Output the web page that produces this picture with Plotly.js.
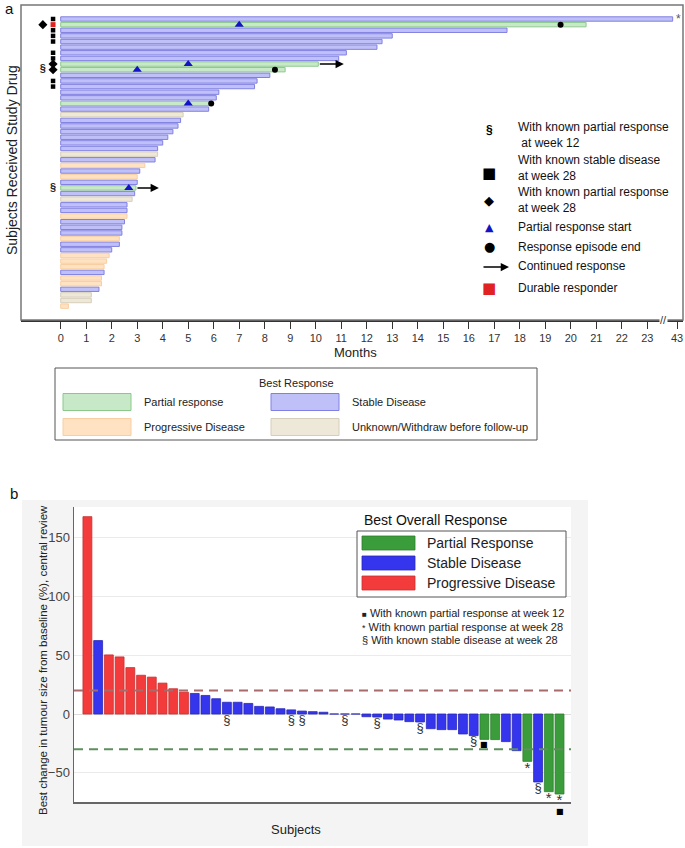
<!DOCTYPE html>
<html>
<head>
<meta charset="utf-8">
<script src="https://cdn.plot.ly/plotly-3.0.1.min.js"></script>
<style>
  html, body { margin: 0; padding: 0; background: #fff; }
  #chart { width: 685px; height: 848px; }
</style>
</head>
<body>
<div id="chart"></div>
<script>
// ---- panel a: swimmer plot, one row per subject (top row first) ----
const months = [42.3, 20.6, 17.5, 13.0, 12.6, 12.4, 11.2, 10.9, 10.1, 8.8, 8.2, 7.7, 7.6,
  6.2, 6.1, 5.85, 5.8, 4.8, 4.7, 4.6, 4.4, 4.2, 4.0, 3.8, 3.8, 3.7, 3.3, 3.1, 3.0, 3.0,
  2.95, 2.9, 2.8, 2.6, 2.6, 2.6, 2.5, 2.4, 2.4, 2.3, 2.3, 2.0, 1.9, 1.8, 1.7, 1.7, 1.6,
  1.6, 1.5, 1.2, 1.2, 0.3];
const bestResp = ['SD','PR','SD','SD','SD','SD','SD','SD','PR','PR','SD','SD','SD',
  'SD','SD','PR','SD','UNK','SD','SD','SD','SD','SD','SD','UNK','SD','PD','SD','PD','SD',
  'PR','SD','UNK','SD','SD','PD','SD','SD','SD','PD','SD','SD','PD','PD','PD','SD','PD',
  'PD','SD','UNK','UNK','PD'];

const prStartRow = [2, 9, 10, 16, 31];
const prStartMonth = [7.0, 5.0, 3.0, 5.0, 2.67];
const respEndRow = [2, 10, 16];
const respEndMonth = [19.6, 8.4, 5.9];
const contRow = [9, 31];
const contMonth = [11.1, 3.85];

const durableRows = [2];
const sd28Rows = [1, 3, 4, 5, 7, 8, 12, 13];
const pr28Rows = [2, 9, 10];
const pr12Rows = [10, 31];

const tickMonths = [0,1,2,3,4,5,6,7,8,9,10,11,12,13,14,15,16,17,18,19,20,21,22,23,43];

// ---- panel b: waterfall of best change in tumour size ----
const change = [168, 62.5, 50.3, 48.6, 39.5, 33, 31.4, 26.3, 21.5, 18.6, 17.5, 15.8, 13,
  10, 10, 9, 6.5, 6, 4.5, 3.5, 2.5, 2, 1.5, 0, 0, 0, -2.3, -2.6, -4.3, -5.1, -6.5, -6.8,
  -12.5, -13.3, -13.3, -17, -18.4, -21.6, -21.8, -23.5, -31.2, -40.3, -57.9, -66.1, -68.1];
const overall = ['PD','SD','PD','PD','PD','PD','PD','PD','PD','PD',
  'SD','SD','SD','SD','SD','SD','SD','SD','SD','SD','SD','SD','SD','SD','SD','SD','SD',
  'SD','SD','SD','SD','SD','SD','SD','SD','SD','SD',
  'PR','PR','SD','SD','PR','SD','PR','PR'];
const wk12PR = [38, 45];
const wk28PR = [42, 44, 45];
const wk28SD = [14, 20, 21, 25, 28, 32, 37, 43];
const pdLine = 20, prLine = -30;

// page helpers (pixel -> paper)
const W = 685, H = 848;
const px = x => x / W;
const py = y => 1 - y / H;
const FONT = 'Liberation Sans, Arial, sans-serif';

// broken x axis: everything past 23 squeezed next to the "43" tick
const axisPos = m => m > 23.5 ? 24.17 - (43 - m) * 0.25 : m;

const rows = months.map((_, i) => i + 1);

const swimStyle = {
  PR:  {fill: 'rgb(200,233,200)', edge: 'rgb(140,200,140)'},
  SD:  {fill: 'rgb(192,192,248)', edge: 'rgb(128,128,226)'},
  PD:  {fill: 'rgb(255,226,194)', edge: 'rgb(248,206,162)'},
  UNK: {fill: 'rgb(238,232,217)', edge: 'rgb(214,206,188)'}
};

const swimTraces = Object.keys(swimStyle).map(k => {
  const rr = rows.filter((r, i) => bestResp[i] === k);
  return {
    type: 'bar', orientation: 'h', xaxis: 'x', yaxis: 'y',
    x: rr.map(r => axisPos(months[r - 1])), y: rr, base: 0, width: 0.78,
    marker: {color: swimStyle[k].fill, line: {color: swimStyle[k].edge, width: 1}},
    showlegend: false, hoverinfo: 'skip'
  };
});

const startTrace = {
  type: 'scatter', mode: 'markers', xaxis: 'x', yaxis: 'y',
  x: prStartMonth, y: prStartRow,
  marker: {symbol: 'triangle-up', size: 8, color: '#1212c8'},
  showlegend: false, hoverinfo: 'skip'
};
const endTrace = {
  type: 'scatter', mode: 'markers', xaxis: 'x', yaxis: 'y',
  x: respEndMonth, y: respEndRow,
  marker: {symbol: 'circle', size: 6, color: '#000'},
  showlegend: false, hoverinfo: 'skip'
};

// flags left of the bars, stacked from the inner column outwards
const colX = [-0.30, -0.70];
const used = {};
const place = rr => rr.map(r => { const c = used[r] || 0; used[r] = c + 1; return colX[c]; });
const flagTraces = [
  {rr: durableRows, marker: {symbol: 'square', size: 5, color: '#e02222'}},
  {rr: sd28Rows, marker: {symbol: 'square', size: 4.5, color: '#000'}},
  {rr: pr28Rows, marker: {symbol: 'diamond', size: 7, color: '#000'}},
  {rr: pr12Rows, text: '§'}
].map(f => {
  const xs = place(f.rr);
  const t = {type: 'scatter', xaxis: 'x', yaxis: 'y', x: xs, y: f.rr,
    showlegend: false, hoverinfo: 'skip'};
  if (f.text) {
    t.mode = 'text';
    t.text = f.rr.map(() => f.text);
    t.textfont = {family: FONT, size: 11, color: '#222', weight: 'bold'};
  } else {
    t.mode = 'markers';
    t.marker = f.marker;
  }
  return t;
});

// ---- waterfall traces ----
const subj = change.map((_, i) => i + 1);
const waterStyle = {
  PR: {fill: '#3a9c3a', edge: '#2f7f2f'},
  SD: {fill: '#3535ee', edge: '#2a2ab8'},
  PD: {fill: '#f43b3b', edge: '#c83030'}
};
const waterTraces = Object.keys(waterStyle).map(k => {
  const ss = subj.filter((s, i) => overall[i] === k);
  return {
    type: 'bar', xaxis: 'x2', yaxis: 'y2',
    x: ss, y: ss.map(s => change[s - 1]), width: 0.83,
    marker: {color: waterStyle[k].fill, line: {color: waterStyle[k].edge, width: 0.8}},
    showlegend: false, hoverinfo: 'skip'
  };
});

const noteSubj = subj.filter(s => wk28SD.includes(s) || wk28PR.includes(s));
const noteTrace = {
  type: 'scatter', mode: 'text', xaxis: 'x2', yaxis: 'y2', cliponaxis: false,
  x: noteSubj, y: noteSubj.map(s => Math.min(change[s - 1], 0)),
  text: noteSubj.map(s => wk28SD.includes(s) ? '§' : '*'),
  textposition: 'bottom center',
  textfont: {family: FONT, color: '#333',
    size: noteSubj.map(s => wk28SD.includes(s) ? 13 : 15)},
  showlegend: false, hoverinfo: 'skip'
};

// ---- decoration: frames, legends, labels ----
const shapes = [
  // panel a frame
  {type: 'rect', xref: 'paper', yref: 'paper', x0: px(21), x1: px(683), y0: py(320), y1: py(5),
    line: {color: '#777', width: 1.5}},
  // panel a best-response key
  {type: 'rect', xref: 'paper', yref: 'paper', x0: px(55), x1: px(537), y0: py(440), y1: py(368),
    line: {color: '#555', width: 1}, fillcolor: '#fff'},
  // panel b grey background and white plot area
  {type: 'rect', xref: 'paper', yref: 'paper', layer: 'below', x0: px(22), x1: px(588), y0: py(846), y1: py(500),
    line: {width: 0}, fillcolor: '#f4f4f4'},
  {type: 'rect', xref: 'paper', yref: 'paper', layer: 'below', x0: px(74), x1: px(571), y0: py(802), y1: py(507),
    line: {width: 0}, fillcolor: '#fff'},
  // threshold lines
  {type: 'line', xref: 'x2 domain', yref: 'y2', x0: 0, x1: 1, y0: pdLine, y1: pdLine,
    line: {color: '#a86a6a', width: 2, dash: '9px,6px'}},
  {type: 'line', xref: 'x2 domain', yref: 'y2', x0: 0, x1: 1, y0: prLine, y1: prLine,
    line: {color: '#5e8f5e', width: 2, dash: '9px,6px'}},
  // panel b legend box
  {type: 'rect', xref: 'paper', yref: 'paper', x0: px(357), x1: px(566), y0: py(597), y1: py(531),
    line: {color: '#555', width: 1}, fillcolor: '#fff'}
];

const annotations = [];
const txt = (x, y, text, o = {}) => annotations.push(Object.assign({
  xref: 'paper', yref: 'paper', x: px(x), y: py(y), text, showarrow: false,
  xanchor: 'left', yanchor: 'middle', align: 'left',
  font: {family: FONT, size: 12, color: '#111'}
}, o));

// week-12 squares under the bars (shifted in pixels so they may sit below the axis)
wk12PR.forEach(s => annotations.push({
  xref: 'x2', yref: 'y2', x: s, y: Math.min(change[s - 1], 0), text: '■', showarrow: false,
  yanchor: 'middle', yshift: wk28PR.includes(s) ? -17 : -5,
  font: {family: 'DejaVu Sans, sans-serif', size: 8, color: '#000'}
}));

txt(3, 9, 'a', {font: {family: FONT, size: 15, color: '#111'}});
txt(8, 494, 'b', {font: {family: FONT, size: 15, color: '#111'}});
txt(12, 160, 'Subjects Received Study Drug', {textangle: -90, xanchor: 'center', align: 'center',
  font: {family: FONT, size: 14, color: '#222'}});
txt(355, 352, 'Months', {xanchor: 'center', align: 'center', font: {family: FONT, size: 13, color: '#222'}});
// axis break mark
annotations.push({xref: 'x', yref: 'paper', x: 23.65, y: py(320), text: '//', showarrow: false,
  bgcolor: '#fff', borderpad: 0, font: {family: FONT, size: 11, color: '#333'}});
// star after the longest bar
annotations.push({xref: 'x', yref: 'y', x: axisPos(months[0]) + 0.22, y: 1, text: '*',
  showarrow: false, font: {family: FONT, size: 12, color: '#555'}});
// continued-response arrows
contRow.forEach((r, i) => annotations.push({
  xref: 'x', yref: 'y', axref: 'x', ayref: 'y', x: contMonth[i], y: r,
  ax: months[r - 1], ay: r, showarrow: true, arrowhead: 2, arrowsize: 1.1,
  arrowwidth: 1.5, arrowcolor: '#000', text: ''
}));

// panel a symbol key
const keySym = {family: 'DejaVu Sans, sans-serif', color: '#000'};
txt(489, 130, '§', {xanchor: 'center', font: {family: FONT, size: 12, color: '#000', weight: 'bold'}});
txt(516, 135, 'With known partial response<br> at week 12');
txt(489, 173, '■', {xanchor: 'center', font: Object.assign({size: 15}, keySym)});
txt(516, 168, 'With known stable disease<br>at week 28');
txt(489, 200, '◆', {xanchor: 'center', font: Object.assign({size: 13}, keySym)});
txt(516, 200, 'With known partial response<br>at week 28');
txt(489, 227, '▲', {xanchor: 'center', font: {family: 'DejaVu Sans, sans-serif', size: 11, color: '#1212c8'}});
txt(516, 227, 'Partial response start');
txt(489, 247, '●', {xanchor: 'center', font: Object.assign({size: 13}, keySym)});
txt(516, 247, 'Response episode end');
annotations.push({xref: 'paper', yref: 'paper', x: px(509), y: py(267), ax: -27, ay: 0,
  showarrow: true, arrowhead: 2, arrowsize: 1.1, arrowwidth: 1.5, arrowcolor: '#000', text: ''});
txt(516, 266, 'Continued response');
txt(489, 288, '■', {xanchor: 'center', font: {family: 'DejaVu Sans, sans-serif', size: 15, color: '#e02222'}});
txt(516, 288, 'Durable responder');

// panel a best-response key
const keyFont = {family: FONT, size: 11, color: '#222'};
txt(296, 383, 'Best Response', {xanchor: 'center', align: 'center', font: keyFont});
[['PR', 'Partial response', 63, 402], ['SD', 'Stable Disease', 271, 402],
 ['PD', 'Progressive Disease', 63, 427], ['UNK', 'Unknown/Withdraw before follow-up', 271, 427]]
  .forEach(([k, label, x, y]) => {
    shapes.push({type: 'rect', xref: 'paper', yref: 'paper', x0: px(x), x1: px(x + 68),
      y0: py(y + 8.5), y1: py(y - 8.5), fillcolor: swimStyle[k].fill,
      line: {color: swimStyle[k].edge, width: 1}});
    txt(x + 79, y, label, {font: keyFont});
  });

// panel b labels and legend
txt(43, 660, 'Best change in tumour size from baseline (%), central review',
  {textangle: -90, xanchor: 'center', align: 'center', font: {family: FONT, size: 11.5, color: '#222'}});
txt(296, 829, 'Subjects', {xanchor: 'center', align: 'center', font: {family: FONT, size: 13, color: '#222'}});
txt(362, 520, 'Best Overall Response', {font: {family: FONT, size: 14, color: '#111'}});
[['PR', 'Partial Response', 543], ['SD', 'Stable Disease', 563], ['PD', 'Progressive Disease', 583]]
  .forEach(([k, label, y]) => {
    shapes.push({type: 'rect', xref: 'paper', yref: 'paper', x0: px(362), x1: px(415),
      y0: py(y + 7), y1: py(y - 7), fillcolor: waterStyle[k].fill,
      line: {color: waterStyle[k].edge, width: 0.8}});
    txt(425, y, label, {font: {family: FONT, size: 14, color: '#222'}});
  });
const smallFont = {family: FONT, size: 11, color: '#222'};
txt(360, 613, '<span style="font-size:8px">■</span> With known partial response at week 12', {font: smallFont});
txt(360, 627, '<span style="font-size:9px">*</span> With known partial response at week 28', {font: smallFont});
txt(360, 640, '§ With known stable disease at week 28', {font: smallFont});

const layout = {
  width: W, height: H,
  margin: {l: 0, r: 0, t: 0, b: 0},
  paper_bgcolor: '#fff', plot_bgcolor: '#fff',
  barmode: 'overlay',
  font: {family: FONT},
  xaxis: {
    domain: [px(21), px(683)], range: [-1.557, 24.40],
    tickvals: tickMonths.map(axisPos), ticktext: tickMonths.map(String),
    ticks: 'outside', ticklen: 7, tickcolor: '#333', tickwidth: 1,
    showline: true, linecolor: '#333', linewidth: 1.5,
    showgrid: false, zeroline: false,
    tickfont: {family: FONT, size: 11, color: '#333'}, fixedrange: true
  },
  yaxis: {
    domain: [py(320), py(5)], range: [54.46, -1.487],
    showticklabels: false, ticks: '', showgrid: false, zeroline: false, showline: false,
    fixedrange: true
  },
  xaxis2: {
    anchor: 'y2', domain: [px(74), px(571)], range: [-0.25, 46.07],
    showticklabels: false, ticks: '', showgrid: false, zeroline: false,
    showline: true, linecolor: '#666', linewidth: 1.5, fixedrange: true
  },
  yaxis2: {
    anchor: 'x2', domain: [py(802), py(507)], range: [-74.9, 176.2],
    tickvals: [-50, 0, 50, 100, 150], ticks: '',
    showgrid: true, gridcolor: '#ebebeb', zeroline: true, zerolinecolor: '#dcdcdc',
    showline: true, linecolor: '#666', linewidth: 1.5,
    tickfont: {family: FONT, size: 13, color: '#444'}, fixedrange: true
  },
  shapes, annotations
};

Plotly.newPlot('chart',
  [...swimTraces, startTrace, endTrace, ...flagTraces, ...waterTraces, noteTrace],
  layout, {staticPlot: true});
</script>
</body>
</html>
